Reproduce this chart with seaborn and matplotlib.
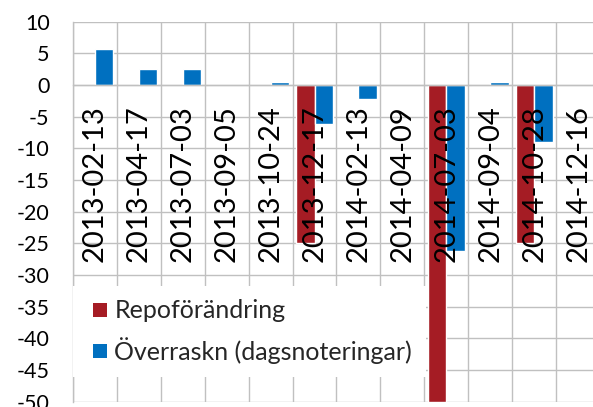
import numpy as np
import pandas as pd
import matplotlib
matplotlib.use("Agg")
import matplotlib.pyplot as plt
import seaborn as sns
from matplotlib.lines import Line2D

# Riksbank decision dates
datum = ["2013-02-13", "2013-04-17", "2013-07-03", "2013-09-05", "2013-10-24",
         "2013-12-17", "2014-02-13", "2014-04-09", "2014-07-03", "2014-09-04",
         "2014-10-28", "2014-12-16"]
# Change in repo rate (basis points)
repo = [0, 0, 0, 0, 0, -25, 0, 0, -50, 0, -25, 0]
# Market surprise, daily quotes (basis points)
overraskn = [5.7, 2.5, 2.5, 0, 0.5, -6.2, -2.2, 0, -26.2, 0.5, -9.0, 0]

serier = ["Repoförändring", "Överraskn (dagsnoteringar)"]
farger = ["#A51C24", "#0070C0"]
yticks = list(range(-50, 11, 5))

df = pd.DataFrame({
    "datum": datum * 2,
    "serie": [serier[0]] * len(datum) + [serier[1]] * len(datum),
    "varde": repo + overraskn,
})

sns.set_style("white")
plt.rcParams["font.family"] = ["Lato", "DejaVu Sans"]

fig = plt.figure(figsize=(5.93, 4.07), dpi=100)
ax = fig.add_axes([0.1223, 0.013, 0.8903, 0.9337])

palette = dict(zip(serier, farger))
sns.barplot(data=df, x="datum", y="varde", hue="serie", hue_order=serier,
            order=datum, palette=palette, width=0.84, saturation=1,
            legend=False, ax=ax, zorder=2)

gridc = "#c0c0c0"
ax.set_xlim(-0.5, len(datum) - 0.5)
ax.set_ylim(-50, 10)
ax.set_yticks(yticks)
ax.set_yticklabels([str(t) for t in yticks], fontsize=15.5)
ax.tick_params(axis="y", direction="out", length=6.5, width=1, color=gridc,
               pad=10, labelcolor="black")

# Category axis crosses at zero; labels sit just below it
ax.spines["bottom"].set_position(("data", 0))
ax.set_xticks(range(len(datum)))
ax.set_xticklabels(datum, rotation=90, fontsize=21, va="top", ha="center")
ax.tick_params(axis="x", which="major", length=0, pad=14.5, labelcolor="black")
ax.set_xticks(np.arange(-0.5, len(datum), 1), minor=True)
ax.tick_params(axis="x", which="minor", length=0)
ax.set_xlabel("")
ax.set_ylabel("")

ax.set_axisbelow(True)
ax.yaxis.grid(True, color=gridc, lw=1)
ax.xaxis.grid(True, which="minor", color=gridc, lw=1)
ax.xaxis.grid(False, which="major")
ax.xaxis.set_zorder(3)

for side in ["top", "right"]:
    ax.spines[side].set_visible(False)
for side in ["left", "bottom"]:
    ax.spines[side].set_color(gridc)
    ax.spines[side].set_linewidth(1)

handles = [Line2D([], [], ls="none", marker="s", markersize=10,
                  markerfacecolor=c, markeredgewidth=0) for c in farger]
leg = fig.legend(handles, serier, loc="upper left",
                 bbox_to_anchor=(72.5 / 593, 1 - 286 / 407),
                 bbox_transform=fig.transFigure, fontsize=18,
                 frameon=True, fancybox=False, framealpha=1,
                 edgecolor="none", facecolor="white", borderpad=0.53,
                 handlelength=1.1, handletextpad=0.05, labelspacing=0.6,
                 borderaxespad=0)
leg.set_zorder(5)

fig.savefig("out.png", dpi=100)
